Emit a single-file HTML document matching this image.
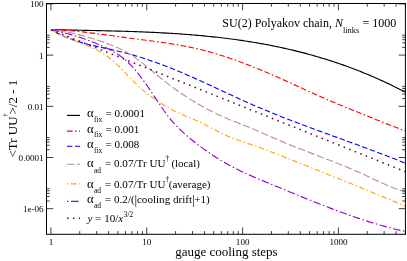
<!DOCTYPE html>
<html><head><meta charset="utf-8"><title>plot</title>
<style>html,body{margin:0;padding:0;background:#fff;}body{width:407px;height:261px;overflow:hidden;position:relative;font-family:"Liberation Serif",serif;}</style>
</head><body>
<svg width="407" height="261" viewBox="0 0 407 261" style="position:absolute;left:0;top:0;will-change:transform;opacity:0.999">
<rect width="407" height="261" fill="#fff"/>
<clipPath id="c"><rect x="46.50" y="3.50" width="359.90" height="230.80"/></clipPath>
<g clip-path="url(#c)" fill="none" stroke-linecap="butt" stroke-linejoin="round">
<path d="M51.00 29.60 L52.98 29.65 L54.96 29.69 L56.94 29.74 L58.92 29.78 L60.90 29.83 L62.88 29.87 L64.86 29.91 L66.84 29.96 L68.82 30.00 L70.80 30.04 L72.78 30.08 L74.77 30.12 L76.75 30.16 L78.73 30.20 L80.71 30.25 L82.69 30.29 L84.67 30.33 L86.65 30.37 L88.63 30.41 L90.61 30.45 L92.59 30.49 L94.57 30.54 L96.55 30.58 L98.53 30.62 L100.51 30.67 L102.49 30.72 L104.47 30.76 L106.45 30.81 L108.43 30.86 L110.41 30.91 L112.39 30.96 L114.37 31.01 L116.35 31.07 L118.34 31.12 L120.32 31.18 L122.30 31.23 L124.28 31.29 L126.26 31.36 L128.24 31.42 L130.22 31.48 L132.20 31.55 L134.18 31.62 L136.16 31.69 L138.14 31.76 L140.12 31.84 L142.10 31.92 L144.08 32.00 L146.06 32.08 L148.04 32.17 L150.02 32.25 L152.00 32.34 L153.98 32.44 L155.96 32.53 L157.94 32.63 L159.92 32.73 L161.91 32.84 L163.89 32.94 L165.87 33.06 L167.85 33.17 L169.83 33.29 L171.81 33.41 L173.79 33.53 L175.77 33.66 L177.75 33.79 L179.73 33.93 L181.71 34.07 L183.69 34.21 L185.67 34.36 L187.65 34.51 L189.63 34.66 L191.61 34.82 L193.59 34.99 L195.57 35.15 L197.55 35.33 L199.53 35.50 L201.51 35.68 L203.49 35.87 L205.47 36.06 L207.46 36.25 L209.44 36.45 L211.42 36.66 L213.40 36.87 L215.38 37.08 L217.36 37.30 L219.34 37.53 L221.32 37.76 L223.30 37.99 L225.28 38.23 L227.26 38.48 L229.24 38.73 L231.22 38.99 L233.20 39.25 L235.18 39.52 L237.16 39.80 L239.14 40.08 L241.12 40.36 L243.10 40.66 L245.08 40.96 L247.06 41.26 L249.04 41.57 L251.03 41.89 L253.01 42.21 L254.99 42.54 L256.97 42.88 L258.95 43.23 L260.93 43.58 L262.91 43.93 L264.89 44.30 L266.87 44.67 L268.85 45.05 L270.83 45.43 L272.81 45.83 L274.79 46.23 L276.77 46.63 L278.75 47.05 L280.73 47.47 L282.71 47.90 L284.69 48.34 L286.67 48.78 L288.65 49.23 L290.63 49.69 L292.61 50.16 L294.59 50.64 L296.58 51.12 L298.56 51.62 L300.54 52.12 L302.52 52.62 L304.50 53.14 L306.48 53.67 L308.46 54.20 L310.44 54.74 L312.42 55.30 L314.40 55.86 L316.38 56.43 L318.36 57.00 L320.34 57.59 L322.32 58.19 L324.30 58.79 L326.28 59.41 L328.26 60.03 L330.24 60.66 L332.22 61.30 L334.20 61.95 L336.18 62.62 L338.16 63.29 L340.15 63.97 L342.13 64.66 L344.11 65.36 L346.09 66.07 L348.07 66.79 L350.05 67.52 L352.03 68.26 L354.01 69.01 L355.99 69.77 L357.97 70.54 L359.95 71.32 L361.93 72.11 L363.91 72.91 L365.89 73.72 L367.87 74.55 L369.85 75.38 L371.83 76.23 L373.81 77.08 L375.79 77.95 L377.77 78.83 L379.75 79.72 L381.73 80.62 L383.72 81.53 L385.70 82.45 L387.68 83.39 L389.66 84.34 L391.64 85.29 L393.62 86.26 L395.60 87.24 L397.58 88.24 L399.56 89.24 L401.54 90.26 L403.52 91.29 L405.50 92.33" stroke="#000000" stroke-width="1.15"/>
<path d="M51.00 29.60 L52.98 29.65 L54.96 29.71 L56.94 29.79 L58.92 29.88 L60.90 29.98 L62.88 30.10 L64.86 30.23 L66.84 30.37 L68.82 30.52 L70.80 30.69 L72.78 30.86 L74.77 31.04 L76.75 31.24 L78.73 31.44 L80.71 31.65 L82.69 31.87 L84.67 32.10 L86.65 32.33 L88.63 32.57 L90.61 32.82 L92.59 33.07 L94.57 33.32 L96.55 33.58 L98.53 33.85 L100.51 34.12 L102.49 34.39 L104.47 34.66 L106.45 34.94 L108.43 35.21 L110.41 35.49 L112.39 35.77 L114.37 36.05 L116.35 36.33 L118.34 36.60 L120.32 36.88 L122.30 37.15 L124.28 37.42 L126.26 37.69 L128.24 37.95 L130.22 38.21 L132.20 38.47 L134.18 38.73 L136.16 38.99 L138.14 39.24 L140.12 39.49 L142.10 39.75 L144.08 40.00 L146.06 40.26 L148.04 40.52 L150.02 40.78 L152.00 41.04 L153.98 41.30 L155.96 41.57 L157.94 41.84 L159.92 42.12 L161.91 42.40 L163.89 42.69 L165.87 42.98 L167.85 43.28 L169.83 43.59 L171.81 43.90 L173.79 44.22 L175.77 44.55 L177.75 44.89 L179.73 45.24 L181.71 45.60 L183.69 45.97 L185.67 46.35 L187.65 46.74 L189.63 47.14 L191.61 47.55 L193.59 47.98 L195.57 48.42 L197.55 48.88 L199.53 49.34 L201.51 49.83 L203.49 50.33 L205.47 50.84 L207.46 51.37 L209.44 51.91 L211.42 52.46 L213.40 53.03 L215.38 53.61 L217.36 54.20 L219.34 54.81 L221.32 55.43 L223.30 56.06 L225.28 56.71 L227.26 57.36 L229.24 58.03 L231.22 58.71 L233.20 59.39 L235.18 60.09 L237.16 60.80 L239.14 61.53 L241.12 62.26 L243.10 63.00 L245.08 63.75 L247.06 64.51 L249.04 65.27 L251.03 66.05 L253.01 66.84 L254.99 67.63 L256.97 68.43 L258.95 69.24 L260.93 70.06 L262.91 70.88 L264.89 71.72 L266.87 72.55 L268.85 73.40 L270.83 74.25 L272.81 75.11 L274.79 75.97 L276.77 76.84 L278.75 77.72 L280.73 78.60 L282.71 79.48 L284.69 80.37 L286.67 81.26 L288.65 82.16 L290.63 83.06 L292.61 83.97 L294.59 84.88 L296.58 85.79 L298.56 86.70 L300.54 87.62 L302.52 88.53 L304.50 89.45 L306.48 90.36 L308.46 91.27 L310.44 92.17 L312.42 93.07 L314.40 93.96 L316.38 94.84 L318.36 95.71 L320.34 96.59 L322.32 97.45 L324.30 98.31 L326.28 99.17 L328.26 100.02 L330.24 100.86 L332.22 101.70 L334.20 102.54 L336.18 103.37 L338.16 104.20 L340.15 105.02 L342.13 105.84 L344.11 106.66 L346.09 107.47 L348.07 108.28 L350.05 109.09 L352.03 109.90 L354.01 110.70 L355.99 111.50 L357.97 112.30 L359.95 113.09 L361.93 113.89 L363.91 114.68 L365.89 115.47 L367.87 116.26 L369.85 117.05 L371.83 117.84 L373.81 118.63 L375.79 119.41 L377.77 120.20 L379.75 120.99 L381.73 121.77 L383.72 122.56 L385.70 123.35 L387.68 124.14 L389.66 124.93 L391.64 125.72 L393.62 126.51 L395.60 127.30 L397.58 128.10 L399.56 128.89 L401.54 129.69 L403.52 130.49 L405.50 131.30" stroke="#ff0000" stroke-width="1.12" stroke-dasharray="5.60 2.40 1.60 2.40 5.60 2.40" stroke-dashoffset="1.30"/>
<path d="M51.00 29.60 L52.98 30.75 L54.96 31.86 L56.94 32.91 L58.92 33.91 L60.90 34.86 L62.88 35.77 L64.86 36.64 L66.84 37.46 L68.82 38.25 L70.80 39.00 L72.78 39.72 L74.77 40.40 L76.75 41.05 L78.73 41.68 L80.71 42.27 L82.69 42.84 L84.67 43.39 L86.65 43.92 L88.63 44.43 L90.61 44.93 L92.59 45.40 L94.57 45.87 L96.55 46.33 L98.53 46.77 L100.51 47.22 L102.49 47.65 L104.47 48.09 L106.45 48.52 L108.43 48.96 L110.41 49.39 L112.39 49.84 L114.37 50.29 L116.35 50.75 L118.34 51.22 L120.32 51.69 L122.30 52.18 L124.28 52.68 L126.26 53.20 L128.24 53.73 L130.22 54.27 L132.20 54.82 L134.18 55.39 L136.16 55.98 L138.14 56.57 L140.12 57.18 L142.10 57.81 L144.08 58.44 L146.06 59.09 L148.04 59.75 L150.02 60.42 L152.00 61.10 L153.98 61.79 L155.96 62.50 L157.94 63.22 L159.92 63.94 L161.91 64.68 L163.89 65.43 L165.87 66.19 L167.85 66.96 L169.83 67.73 L171.81 68.52 L173.79 69.32 L175.77 70.12 L177.75 70.94 L179.73 71.76 L181.71 72.59 L183.69 73.43 L185.67 74.28 L187.65 75.14 L189.63 76.00 L191.61 76.87 L193.59 77.75 L195.57 78.63 L197.55 79.52 L199.53 80.42 L201.51 81.32 L203.49 82.22 L205.47 83.13 L207.46 84.04 L209.44 84.96 L211.42 85.88 L213.40 86.80 L215.38 87.72 L217.36 88.64 L219.34 89.57 L221.32 90.49 L223.30 91.42 L225.28 92.34 L227.26 93.26 L229.24 94.19 L231.22 95.10 L233.20 96.02 L235.18 96.94 L237.16 97.85 L239.14 98.75 L241.12 99.65 L243.10 100.55 L245.08 101.44 L247.06 102.33 L249.04 103.21 L251.03 104.08 L253.01 104.94 L254.99 105.80 L256.97 106.66 L258.95 107.50 L260.93 108.34 L262.91 109.17 L264.89 110.00 L266.87 110.82 L268.85 111.64 L270.83 112.45 L272.81 113.25 L274.79 114.05 L276.77 114.85 L278.75 115.64 L280.73 116.42 L282.71 117.20 L284.69 117.98 L286.67 118.75 L288.65 119.52 L290.63 120.28 L292.61 121.04 L294.59 121.80 L296.58 122.55 L298.56 123.30 L300.54 124.05 L302.52 124.80 L304.50 125.54 L306.48 126.27 L308.46 127.01 L310.44 127.74 L312.42 128.47 L314.40 129.20 L316.38 129.93 L318.36 130.66 L320.34 131.38 L322.32 132.10 L324.30 132.83 L326.28 133.55 L328.26 134.27 L330.24 134.98 L332.22 135.70 L334.20 136.42 L336.18 137.14 L338.16 137.85 L340.15 138.57 L342.13 139.29 L344.11 140.01 L346.09 140.73 L348.07 141.45 L350.05 142.16 L352.03 142.89 L354.01 143.61 L355.99 144.33 L357.97 145.06 L359.95 145.78 L361.93 146.51 L363.91 147.24 L365.89 147.97 L367.87 148.71 L369.85 149.44 L371.83 150.18 L373.81 150.93 L375.79 151.67 L377.77 152.42 L379.75 153.17 L381.73 153.92 L383.72 154.68 L385.70 155.44 L387.68 156.21 L389.66 156.98 L391.64 157.75 L393.62 158.53 L395.60 159.31 L397.58 160.10 L399.56 160.89 L401.54 161.69 L403.52 162.49 L405.50 163.30" stroke="#0000ff" stroke-width="1.12" stroke-dasharray="5.40 2.60" stroke-dashoffset="2.70"/>
<path d="M51.00 29.60 L52.98 29.82 L54.96 30.06 L56.94 30.32 L58.92 30.61 L60.90 30.91 L62.88 31.24 L64.86 31.59 L66.84 31.96 L68.82 32.35 L70.80 32.77 L72.78 33.20 L74.77 33.65 L76.75 34.12 L78.73 34.61 L80.71 35.12 L82.69 35.65 L84.67 36.19 L86.65 36.76 L88.63 37.34 L90.61 37.94 L92.59 38.55 L94.57 39.18 L96.55 39.83 L98.53 40.49 L100.51 41.17 L102.49 41.87 L104.47 42.58 L106.45 43.30 L108.43 44.04 L110.41 44.79 L112.39 45.56 L114.37 46.35 L116.35 47.18 L118.34 48.03 L120.32 48.94 L122.30 49.90 L124.28 50.91 L126.26 52.00 L128.24 53.15 L130.22 54.38 L132.20 55.66 L134.18 57.01 L136.16 58.40 L138.14 59.85 L140.12 61.33 L142.10 62.86 L144.08 64.41 L146.06 65.99 L148.04 67.60 L150.02 69.21 L152.00 70.84 L153.98 72.48 L155.96 74.11 L157.94 75.75 L159.92 77.37 L161.91 78.97 L163.89 80.56 L165.87 82.12 L167.85 83.66 L169.83 85.17 L171.81 86.65 L173.79 88.11 L175.77 89.54 L177.75 90.95 L179.73 92.33 L181.71 93.69 L183.69 95.02 L185.67 96.33 L187.65 97.62 L189.63 98.88 L191.61 100.12 L193.59 101.33 L195.57 102.52 L197.55 103.69 L199.53 104.84 L201.51 105.96 L203.49 107.06 L205.47 108.14 L207.46 109.19 L209.44 110.23 L211.42 111.24 L213.40 112.23 L215.38 113.20 L217.36 114.14 L219.34 115.07 L221.32 115.98 L223.30 116.86 L225.28 117.73 L227.26 118.57 L229.24 119.40 L231.22 120.21 L233.20 121.01 L235.18 121.80 L237.16 122.58 L239.14 123.36 L241.12 124.14 L243.10 124.92 L245.08 125.70 L247.06 126.50 L249.04 127.30 L251.03 128.12 L253.01 128.96 L254.99 129.80 L256.97 130.66 L258.95 131.52 L260.93 132.39 L262.91 133.26 L264.89 134.14 L266.87 135.01 L268.85 135.89 L270.83 136.76 L272.81 137.62 L274.79 138.48 L276.77 139.34 L278.75 140.19 L280.73 141.03 L282.71 141.86 L284.69 142.68 L286.67 143.50 L288.65 144.31 L290.63 145.11 L292.61 145.91 L294.59 146.70 L296.58 147.48 L298.56 148.26 L300.54 149.04 L302.52 149.81 L304.50 150.58 L306.48 151.34 L308.46 152.10 L310.44 152.86 L312.42 153.62 L314.40 154.38 L316.38 155.14 L318.36 155.90 L320.34 156.66 L322.32 157.42 L324.30 158.18 L326.28 158.94 L328.26 159.71 L330.24 160.48 L332.22 161.25 L334.20 162.03 L336.18 162.81 L338.16 163.60 L340.15 164.40 L342.13 165.19 L344.11 166.00 L346.09 166.82 L348.07 167.64 L350.05 168.47 L352.03 169.31 L354.01 170.15 L355.99 171.01 L357.97 171.88 L359.95 172.76 L361.93 173.65 L363.91 174.55 L365.89 175.47 L367.87 176.39 L369.85 177.33 L371.83 178.27 L373.81 179.22 L375.79 180.16 L377.77 181.10 L379.75 182.03 L381.73 182.95 L383.72 183.85 L385.70 184.73 L387.68 185.59 L389.66 186.42 L391.64 187.22 L393.62 187.98 L395.60 188.70 L397.58 189.38 L399.56 190.02 L401.54 190.60 L403.52 191.13 L405.50 191.60" stroke="#bc8f8f" stroke-width="1.12" stroke-dasharray="7.40 2.60" stroke-dashoffset="2.80"/>
<path d="M51.00 29.60 L52.98 30.84 L54.96 32.00 L56.94 33.09 L58.92 34.12 L60.90 35.09 L62.88 36.01 L64.86 36.89 L66.84 37.73 L68.82 38.54 L70.80 39.32 L72.78 40.08 L74.77 40.82 L76.75 41.56 L78.73 42.30 L80.71 43.04 L82.69 43.79 L84.67 44.56 L86.65 45.35 L88.63 46.17 L90.61 47.02 L92.59 47.91 L94.57 48.85 L96.55 49.85 L98.53 50.90 L100.51 52.01 L102.49 53.20 L104.47 54.47 L106.45 55.82 L108.43 57.25 L110.41 58.79 L112.39 60.42 L114.37 62.14 L116.35 63.94 L118.34 65.81 L120.32 67.74 L122.30 69.72 L124.28 71.74 L126.26 73.80 L128.24 75.87 L130.22 77.95 L132.20 80.00 L134.18 82.02 L136.16 83.97 L138.14 85.86 L140.12 87.69 L142.10 89.44 L144.08 91.11 L146.06 92.71 L148.04 94.23 L150.02 95.70 L152.00 97.11 L153.98 98.49 L155.96 99.85 L157.94 101.18 L159.92 102.50 L161.91 103.79 L163.89 105.05 L165.87 106.28 L167.85 107.45 L169.83 108.58 L171.81 109.65 L173.79 110.66 L175.77 111.63 L177.75 112.56 L179.73 113.45 L181.71 114.32 L183.69 115.17 L185.67 116.00 L187.65 116.82 L189.63 117.64 L191.61 118.46 L193.59 119.30 L195.57 120.15 L197.55 121.03 L199.53 121.94 L201.51 122.88 L203.49 123.86 L205.47 124.87 L207.46 125.89 L209.44 126.93 L211.42 127.98 L213.40 129.03 L215.38 130.08 L217.36 131.11 L219.34 132.13 L221.32 133.13 L223.30 134.10 L225.28 135.03 L227.26 135.92 L229.24 136.77 L231.22 137.58 L233.20 138.35 L235.18 139.10 L237.16 139.82 L239.14 140.52 L241.12 141.21 L243.10 141.88 L245.08 142.55 L247.06 143.22 L249.04 143.89 L251.03 144.56 L253.01 145.25 L254.99 145.95 L256.97 146.65 L258.95 147.36 L260.93 148.08 L262.91 148.81 L264.89 149.54 L266.87 150.28 L268.85 151.03 L270.83 151.78 L272.81 152.54 L274.79 153.30 L276.77 154.07 L278.75 154.84 L280.73 155.61 L282.71 156.39 L284.69 157.17 L286.67 157.96 L288.65 158.74 L290.63 159.53 L292.61 160.32 L294.59 161.11 L296.58 161.90 L298.56 162.69 L300.54 163.48 L302.52 164.27 L304.50 165.07 L306.48 165.85 L308.46 166.64 L310.44 167.43 L312.42 168.22 L314.40 169.01 L316.38 169.80 L318.36 170.59 L320.34 171.38 L322.32 172.17 L324.30 172.96 L326.28 173.75 L328.26 174.54 L330.24 175.33 L332.22 176.13 L334.20 176.92 L336.18 177.71 L338.16 178.51 L340.15 179.30 L342.13 180.10 L344.11 180.89 L346.09 181.69 L348.07 182.49 L350.05 183.29 L352.03 184.09 L354.01 184.89 L355.99 185.69 L357.97 186.50 L359.95 187.30 L361.93 188.11 L363.91 188.92 L365.89 189.73 L367.87 190.55 L369.85 191.36 L371.83 192.18 L373.81 192.99 L375.79 193.81 L377.77 194.64 L379.75 195.46 L381.73 196.29 L383.72 197.12 L385.70 197.95 L387.68 198.78 L389.66 199.62 L391.64 200.46 L393.62 201.30 L395.60 202.14 L397.58 202.99 L399.56 203.84 L401.54 204.69 L403.52 205.54 L405.50 206.40" stroke="#ffa500" stroke-width="1.12" stroke-dasharray="1.50 2.50 5.50 2.50" stroke-dashoffset="2.40"/>
<path d="M51.00 29.60 L52.98 30.06 L54.96 30.52 L56.94 30.99 L58.92 31.47 L60.90 31.97 L62.88 32.47 L64.86 32.99 L66.84 33.51 L68.82 34.06 L70.80 34.61 L72.78 35.19 L74.77 35.78 L76.75 36.38 L78.73 37.00 L80.71 37.65 L82.69 38.31 L84.67 38.99 L86.65 39.69 L88.63 40.42 L90.61 41.17 L92.59 41.94 L94.57 42.73 L96.55 43.55 L98.53 44.40 L100.51 45.28 L102.49 46.18 L104.47 47.11 L106.45 48.07 L108.43 49.06 L110.41 50.08 L112.39 51.13 L114.37 52.24 L116.35 53.40 L118.34 54.65 L120.32 55.98 L122.30 57.42 L124.28 58.98 L126.26 60.67 L128.24 62.51 L130.22 64.48 L132.20 66.58 L134.18 68.80 L136.16 71.13 L138.14 73.57 L140.12 76.10 L142.10 78.73 L144.08 81.43 L146.06 84.20 L148.04 87.04 L150.02 89.94 L152.00 92.88 L153.98 95.85 L155.96 98.83 L157.94 101.80 L159.92 104.75 L161.91 107.65 L163.89 110.48 L165.87 113.23 L167.85 115.87 L169.83 118.39 L171.81 120.79 L173.79 123.06 L175.77 125.22 L177.75 127.28 L179.73 129.25 L181.71 131.14 L183.69 132.95 L185.67 134.71 L187.65 136.41 L189.63 138.07 L191.61 139.70 L193.59 141.30 L195.57 142.87 L197.55 144.41 L199.53 145.92 L201.51 147.40 L203.49 148.85 L205.47 150.27 L207.46 151.66 L209.44 153.03 L211.42 154.37 L213.40 155.68 L215.38 156.96 L217.36 158.21 L219.34 159.44 L221.32 160.64 L223.30 161.82 L225.28 162.96 L227.26 164.08 L229.24 165.18 L231.22 166.24 L233.20 167.29 L235.18 168.30 L237.16 169.30 L239.14 170.27 L241.12 171.23 L243.10 172.17 L245.08 173.08 L247.06 173.99 L249.04 174.88 L251.03 175.75 L253.01 176.62 L254.99 177.47 L256.97 178.31 L258.95 179.15 L260.93 179.98 L262.91 180.80 L264.89 181.62 L266.87 182.44 L268.85 183.26 L270.83 184.08 L272.81 184.89 L274.79 185.71 L276.77 186.53 L278.75 187.35 L280.73 188.17 L282.71 188.99 L284.69 189.81 L286.67 190.62 L288.65 191.44 L290.63 192.26 L292.61 193.08 L294.59 193.89 L296.58 194.70 L298.56 195.51 L300.54 196.32 L302.52 197.13 L304.50 197.94 L306.48 198.74 L308.46 199.54 L310.44 200.34 L312.42 201.13 L314.40 201.92 L316.38 202.71 L318.36 203.49 L320.34 204.27 L322.32 205.05 L324.30 205.82 L326.28 206.59 L328.26 207.35 L330.24 208.11 L332.22 208.86 L334.20 209.61 L336.18 210.36 L338.16 211.09 L340.15 211.83 L342.13 212.55 L344.11 213.27 L346.09 213.98 L348.07 214.69 L350.05 215.39 L352.03 216.08 L354.01 216.77 L355.99 217.45 L357.97 218.12 L359.95 218.79 L361.93 219.44 L363.91 220.09 L365.89 220.73 L367.87 221.36 L369.85 221.98 L371.83 222.60 L373.81 223.20 L375.79 223.80 L377.77 224.39 L379.75 224.96 L381.73 225.53 L383.72 226.09 L385.70 226.63 L387.68 227.17 L389.66 227.70 L391.64 228.21 L393.62 228.71 L395.60 229.21 L397.58 229.69 L399.56 230.16 L401.54 230.62 L403.52 231.07 L405.50 231.50" stroke="#9400d3" stroke-width="1.12" stroke-dasharray="1.50 2.50 7.50 2.50" stroke-dashoffset="3.40"/>
<path d="M50.90 29.70 L405.50 171.74" stroke="#670748" stroke-width="1.55" stroke-dasharray="1.55 4.40"/>
</g>
<path d="M50.90 234.30 v-6.80 M50.90 3.50 v6.80 M79.75 234.30 v-3.20 M79.75 3.50 v3.20 M96.63 234.30 v-3.20 M96.63 3.50 v3.20 M108.60 234.30 v-3.20 M108.60 3.50 v3.20 M117.89 234.30 v-3.20 M117.89 3.50 v3.20 M125.48 234.30 v-3.20 M125.48 3.50 v3.20 M131.89 234.30 v-3.20 M131.89 3.50 v3.20 M137.45 234.30 v-3.20 M137.45 3.50 v3.20 M142.35 234.30 v-3.20 M142.35 3.50 v3.20 M146.74 234.30 v-6.80 M146.74 3.50 v6.80 M175.59 234.30 v-3.20 M175.59 3.50 v3.20 M192.47 234.30 v-3.20 M192.47 3.50 v3.20 M204.44 234.30 v-3.20 M204.44 3.50 v3.20 M213.73 234.30 v-3.20 M213.73 3.50 v3.20 M221.32 234.30 v-3.20 M221.32 3.50 v3.20 M227.73 234.30 v-3.20 M227.73 3.50 v3.20 M233.29 234.30 v-3.20 M233.29 3.50 v3.20 M238.19 234.30 v-3.20 M238.19 3.50 v3.20 M242.58 234.30 v-6.80 M242.58 3.50 v6.80 M271.43 234.30 v-3.20 M271.43 3.50 v3.20 M288.31 234.30 v-3.20 M288.31 3.50 v3.20 M300.28 234.30 v-3.20 M300.28 3.50 v3.20 M309.57 234.30 v-3.20 M309.57 3.50 v3.20 M317.16 234.30 v-3.20 M317.16 3.50 v3.20 M323.57 234.30 v-3.20 M323.57 3.50 v3.20 M329.13 234.30 v-3.20 M329.13 3.50 v3.20 M334.03 234.30 v-3.20 M334.03 3.50 v3.20 M338.42 234.30 v-6.80 M338.42 3.50 v6.80 M367.27 234.30 v-3.20 M367.27 3.50 v3.20 M384.15 234.30 v-3.20 M384.15 3.50 v3.20 M396.12 234.30 v-3.20 M396.12 3.50 v3.20 M405.41 234.30 v-3.20 M405.41 3.50 v3.20 M46.50 3.90 h6.80 M405.40 3.90 h-6.80 M46.50 55.10 h6.80 M405.40 55.10 h-6.80 M46.50 47.39 h3.20 M405.40 47.39 h-3.20 M46.50 42.89 h3.20 M405.40 42.89 h-3.20 M46.50 39.69 h3.20 M405.40 39.69 h-3.20 M46.50 37.21 h3.20 M405.40 37.21 h-3.20 M46.50 35.18 h3.20 M405.40 35.18 h-3.20 M46.50 106.30 h6.80 M405.40 106.30 h-6.80 M46.50 98.59 h3.20 M405.40 98.59 h-3.20 M46.50 94.09 h3.20 M405.40 94.09 h-3.20 M46.50 90.89 h3.20 M405.40 90.89 h-3.20 M46.50 88.41 h3.20 M405.40 88.41 h-3.20 M46.50 86.38 h3.20 M405.40 86.38 h-3.20 M46.50 157.50 h6.80 M405.40 157.50 h-6.80 M46.50 149.79 h3.20 M405.40 149.79 h-3.20 M46.50 145.29 h3.20 M405.40 145.29 h-3.20 M46.50 142.09 h3.20 M405.40 142.09 h-3.20 M46.50 139.61 h3.20 M405.40 139.61 h-3.20 M46.50 137.58 h3.20 M405.40 137.58 h-3.20 M46.50 208.70 h6.80 M405.40 208.70 h-6.80 M46.50 200.99 h3.20 M405.40 200.99 h-3.20 M46.50 196.49 h3.20 M405.40 196.49 h-3.20 M46.50 193.29 h3.20 M405.40 193.29 h-3.20 M46.50 190.81 h3.20 M405.40 190.81 h-3.20 M46.50 188.78 h3.20 M405.40 188.78 h-3.20" stroke="#000" stroke-width="0.75" fill="none"/>
<rect x="46.50" y="3.50" width="358.90" height="230.80" fill="none" stroke="#000" stroke-width="1.00"/>
<path d="M67 115.40 H80" stroke="#000000" stroke-width="1.15" fill="none"/>
<path d="M67 131.10 H80" stroke="#ff0000" stroke-width="1.12" fill="none" stroke-dasharray="5.60 2.40 1.60 2.40 5.60 2.40"/>
<path d="M67 146.30 H80" stroke="#0000ff" stroke-width="1.12" fill="none" stroke-dasharray="5.40 2.60"/>
<path d="M67 164.20 H80" stroke="#bc8f8f" stroke-width="1.12" fill="none" stroke-dasharray="7.40 2.60"/>
<path d="M67 183.90 H80" stroke="#ffa500" stroke-width="1.12" fill="none" stroke-dasharray="1.50 2.50 5.50 2.50"/>
<path d="M67 201.40 H80" stroke="#9400d3" stroke-width="1.12" fill="none" stroke-dasharray="1.50 2.50 7.50 2.50"/>
<path d="M67 218.30 H80" stroke="#670748" stroke-width="1.55" fill="none" stroke-dasharray="1.55 4.40"/>
<g fill="#000" font-family="Liberation Serif, serif" style="opacity:1">
<text x="51.00" y="245.10" font-size="9.10" text-anchor="middle" >1</text>
<text x="146.84" y="245.10" font-size="9.10" text-anchor="middle" >10</text>
<text x="242.68" y="245.10" font-size="9.10" text-anchor="middle" >100</text>
<text x="338.52" y="245.10" font-size="9.10" text-anchor="middle" >1000</text>
<text x="43.60" y="7.30" font-size="9.10" text-anchor="end" >100</text>
<text x="43.60" y="58.50" font-size="9.10" text-anchor="end" >1</text>
<text x="43.60" y="109.70" font-size="9.10" text-anchor="end" >0.01</text>
<text x="43.60" y="160.90" font-size="9.10" text-anchor="end" >0.0001</text>
<text x="43.60" y="212.10" font-size="9.10" text-anchor="end" >1e-06</text>
<text x="226.40" y="256.20" font-size="13.00" text-anchor="middle" >gauge cooling steps</text>
<text transform="translate(16.9,118.6) rotate(-90)" font-size="13" text-anchor="middle">&lt;Tr UU<tspan font-size="6.8" dy="-10.2" dx="-0.4">†</tspan><tspan dy="10.2" dx="-1.1">&gt;/2 - 1</tspan></text>
<text x="222.3" y="26.8" font-size="12">SU(2) Polyakov chain, <tspan font-style="italic">N</tspan><tspan font-size="8.4" dy="6.0">links</tspan><tspan dy="-6.0" dx="0.2"> = 1000</tspan></text>
<text x="87.00" y="117.20" font-size="12.60" text-anchor="start" >α</text>
<text x="94.00" y="121.70" font-size="7.50" text-anchor="start" >fix</text>
<text x="105.40" y="117.20" font-size="11.10" text-anchor="start" >= 0.0001</text>
<text x="87.00" y="132.90" font-size="12.60" text-anchor="start" >α</text>
<text x="94.00" y="137.40" font-size="7.50" text-anchor="start" >fix</text>
<text x="105.40" y="132.90" font-size="11.10" text-anchor="start" >= 0.001</text>
<text x="87.00" y="148.10" font-size="12.60" text-anchor="start" >α</text>
<text x="94.00" y="152.60" font-size="7.50" text-anchor="start" >fix</text>
<text x="105.40" y="148.10" font-size="11.10" text-anchor="start" >= 0.008</text>
<text x="87.00" y="167.30" font-size="12.60" text-anchor="start" >α</text>
<text x="94.00" y="172.50" font-size="7.50" text-anchor="start" >ad</text>
<text x="105.00" y="167.30" font-size="11.10" text-anchor="start" >= 0.07/Tr UU</text>
<text x="165.40" y="161.30" font-size="7.30" text-anchor="start" >†</text>
<text x="171.40" y="167.30" font-size="10.90" text-anchor="start" >(local)</text>
<text x="87.00" y="187.60" font-size="12.60" text-anchor="start" >α</text>
<text x="94.00" y="192.80" font-size="7.50" text-anchor="start" >ad</text>
<text x="105.00" y="187.60" font-size="11.10" text-anchor="start" >= 0.07/Tr UU</text>
<text x="165.40" y="181.60" font-size="7.30" text-anchor="start" >†</text>
<text x="168.70" y="187.60" font-size="11.10" text-anchor="start" >(average)</text>
<text x="87.00" y="202.90" font-size="12.60" text-anchor="start" >α</text>
<text x="94.00" y="208.10" font-size="7.50" text-anchor="start" >ad</text>
<text x="105.00" y="202.90" font-size="11.10" text-anchor="start" >= 0.2/(<tspan font-size="13.2" dy="0.8" dx="-0.2">|</tspan><tspan dy="-0.8" dx="-0.2">cooling drift</tspan><tspan font-size="13.2" dy="0.8" dx="-0.2">|</tspan><tspan dy="-0.8" dx="-0.2">+1)</tspan></text>
<text x="87.4" y="222.2" font-size="11.10"><tspan font-style="italic">y</tspan> = 10/<tspan font-style="italic">x</tspan><tspan font-size="7.3" dy="-5.5" dx="0.6">3/2</tspan></text>
</g>
</svg>
</body></html>
